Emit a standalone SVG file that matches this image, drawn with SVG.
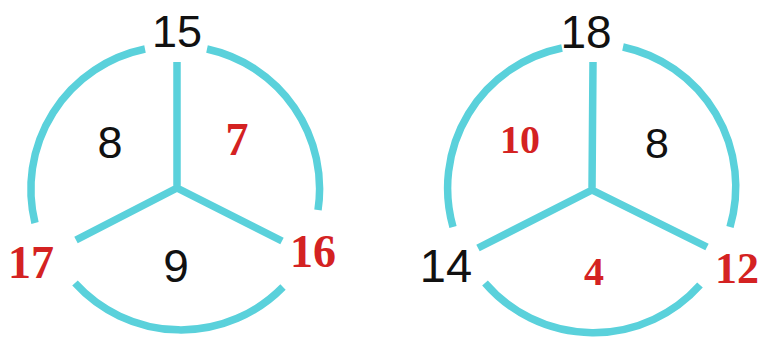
<svg xmlns="http://www.w3.org/2000/svg" width="759" height="337" viewBox="0 0 759 337">
<style>
.ln{fill:none;stroke:#5ad1db;stroke-width:7.5;stroke-linecap:butt}
.bk{font-family:"Liberation Sans",Arial,sans-serif;fill:#111;text-anchor:middle}
.rd{font-family:"Liberation Serif","Times New Roman",serif;font-weight:bold;fill:#d42222;text-anchor:middle}
</style>
<rect width="759" height="337" fill="#fff"/>
<g id="connectors">
<g id="left-figure">
<path class="ln" d="M145 49 A143 143 0 0 0 35 223"/>
<path class="ln" d="M207 49 A143 143 0 0 1 318 210"/>
<path class="ln" d="M75 283 A143 143 0 0 0 283 287"/>
<path class="ln" d="M177 62 V188 M177 188 L76 240 M177 188 L282 241"/>
</g>
<g id="right-figure">
<path class="ln" d="M562 48 A143 143 0 0 0 453 227"/>
<path class="ln" d="M623 47 A143 143 0 0 1 730 227"/>
<path class="ln" d="M485 283 A143 143 0 0 0 700 285"/>
<path class="ln" d="M593 62 L592 190 M592 190 L478 248 M592 190 L707 247"/>
</g>
</g>
<g id="n15"><text class="bk" x="177" y="47" font-size="45">15</text></g>
<g id="n8a"><text class="bk" x="110" y="158" font-size="45">8</text></g>
<g id="n7"><text class="rd" x="237" y="155" font-size="46">7</text></g>
<g id="n9"><text class="bk" x="176" y="282" font-size="46">9</text></g>
<g id="n17"><text class="rd" x="31" y="278" font-size="46">17</text></g>
<g id="n16"><text class="rd" x="313" y="267" font-size="46">16</text></g>
<g id="n18"><text class="bk" x="586" y="48" font-size="46">18</text></g>
<g id="n10"><text class="rd" x="520" y="153" font-size="40">10</text></g>
<g id="n8b"><text class="bk" x="657" y="158" font-size="43">8</text></g>
<g id="n14"><text class="bk" x="446" y="282" font-size="47">14</text></g>
<g id="n4"><text class="rd" x="594" y="285" font-size="40">4</text></g>
<g id="n12"><text class="rd" x="737" y="283" font-size="44">12</text></g>
</svg>
